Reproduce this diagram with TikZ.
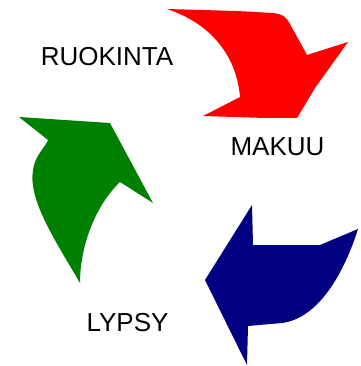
\documentclass[tikz,border=0pt]{standalone}
\usepackage{fontspec}
\setmainfont{Liberation Sans}
\usepackage{tikz}
\definecolor{cyclered}{HTML}{FF0000}
\definecolor{cyclegreen}{HTML}{008000}
\definecolor{cycleblue}{HTML}{000080}

\begin{document}
\begin{tikzpicture}[
    x=1pt, y=-1pt,
    stagetext/.style={
        inner sep=0pt,
        font=\fontsize{26}{30}\selectfont
    },
    bentarrow/.style={draw=none}
]
\useasboundingbox (0,0) rectangle (360,366);

% red arrow, top right
\fill[bentarrow, cyclered] (167,9) -- (237,11) -- (273,13)
    .. controls (283,14) and (287,18) .. (290,24)
    -- (307,55) -- (348,42) -- (315,88) -- (297,118) -- (265,118)
    -- (203,116) -- (240,97)
    .. controls (237,60) and (215,25) .. (167,9) -- cycle;

% green arrow, left
\fill[bentarrow, cyclegreen] (19,117) -- (110,123) -- (153,203) -- (120,182)
    .. controls (96,205) and (80,245) .. (80,283)
    .. controls (55,240) and (28,200) .. (33,170)
    .. controls (35,155) and (45,148) .. (48,140) -- cycle;

% blue arrow, bottom right
\fill[bentarrow, cycleblue] (252,205) -- (253,245) -- (320,245) -- (358,229)
    .. controls (345,270) and (320,318) .. (282,323)
    -- (248,326) -- (247,365) -- (205,280) -- cycle;

\node[stagetext] (ruokinta) at (107,56.5) {RUOKINTA};
\node[stagetext] (makuu) at (277.5,147) {MAKUU};
\node[stagetext] (lypsy) at (127.5,322.5) {LYPSY};
\end{tikzpicture}
\end{document}
